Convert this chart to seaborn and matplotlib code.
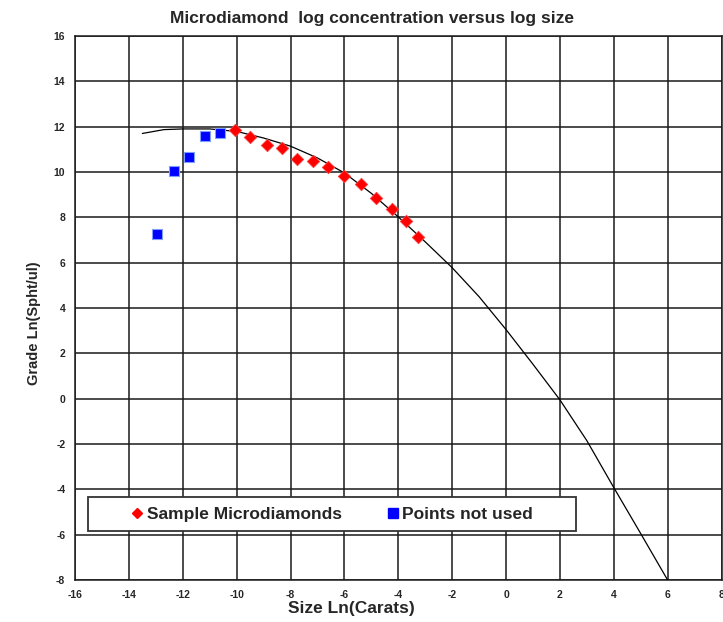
import matplotlib
matplotlib.use("Agg")
import matplotlib.pyplot as plt
import seaborn as sns
import pandas as pd
from matplotlib.patches import Rectangle
from matplotlib.lines import Line2D

# Sample microdiamonds (red diamonds)
sample_x = [-10.06, -9.50, -8.86, -8.32, -7.75, -7.17, -6.60, -6.02, -5.40, -4.84, -4.22, -3.72, -3.28]
sample_y = [11.85, 11.53, 11.18, 11.06, 10.59, 10.47, 10.22, 9.81, 9.46, 8.85, 8.35, 7.84, 7.15]

# Points not used (blue squares)
unused_x = [-12.96, -12.33, -11.77, -11.18, -10.63]
unused_y = [7.27, 10.05, 10.66, 11.59, 11.72]

# Fitted curve
curve_x = [-13.5, -12.7, -12.0, -11.0, -10.0, -9.0, -8.0, -7.0, -6.0, -5.0, -4.0,
           -3.0, -2.0, -1.0, 0.0, 1.0, 2.0, 3.0, 4.0, 5.0, 6.0]
curve_y = [11.70, 11.87, 11.90, 11.90, 11.79, 11.50, 11.14, 10.62, 9.96, 9.06, 8.02,
           6.92, 5.78, 4.50, 3.05, 1.52, -0.05, -1.85, -3.92, -5.95, -8.0]

x_ticks = list(range(-16, 9, 2))
y_ticks = list(range(-8, 17, 2))

sns.set_style("white")
plt.rcParams["font.family"] = ["Liberation Sans", "DejaVu Sans"]
plt.rcParams["axes.unicode_minus"] = False

fig = plt.figure(figsize=(7.23, 6.22), dpi=100)
ax = fig.add_axes([75 / 723, 42 / 622, 646.5 / 723, 544 / 622])

curve = pd.DataFrame({"x": curve_x, "y": curve_y})
sns.lineplot(data=curve, x="x", y="y", sort=False, estimator=None,
             color="black", linewidth=0.9, ax=ax, zorder=3)

sns.scatterplot(x=unused_x, y=unused_y, marker="s", s=48, color="#0000ff",
                edgecolor="#7f9fff", linewidth=0.8, ax=ax, zorder=4)
sns.scatterplot(x=sample_x, y=sample_y, marker="D", s=40, color="#ff0000",
                edgecolor="#ff4040", linewidth=0.6, ax=ax, zorder=4)

ax.set_xlim(-16, 8)
ax.set_ylim(-8, 16)
ax.set_xticks(x_ticks)
ax.set_yticks(y_ticks)
ax.grid(True, color="#1a1a1a", linewidth=1.1)
ax.set_axisbelow(True)
for side in ["left", "bottom", "top", "right"]:
    ax.spines[side].set_color("#1a1a1a")
    ax.spines[side].set_linewidth(1.1)

ax.tick_params(axis="both", direction="out", length=4, width=1, color="#1a1a1a",
               labelsize=7.5, pad=3)
for lab in ax.get_xticklabels() + ax.get_yticklabels():
    lab.set_fontweight("bold")

ax.set_xlabel("Size Ln(Carats)", fontsize=12.5, fontweight="bold")
ax.set_ylabel("Grade Ln(Spht/ul)", fontsize=10.5, fontweight="bold")
ax.xaxis.set_label_coords(0.428, -0.038)
ax.yaxis.set_label_coords(-0.053, 0.472)

fig.text(372 / 723, 1 - 18 / 622, "Microdiamond  log concentration versus log size",
         ha="center", va="center", fontsize=12.5, fontweight="bold")

# legend box
box = Rectangle((0.020, 0.090), 0.755, 0.0625, transform=ax.transAxes,
                facecolor="white", edgecolor="#333333", linewidth=1.3, zorder=5)
ax.add_patch(box)

handles = [
    Line2D([], [], linestyle="none", marker="D", markersize=5, color="#ff0000"),
    Line2D([], [], linestyle="none", marker="s", markersize=6.5, color="#0000ff"),
]
leg = ax.legend(handles, ["Sample Microdiamonds", "Points not used"], ncol=2,
                loc="center left", bbox_to_anchor=(0.0722, 0.121), frameon=False,
                prop={"weight": "bold", "size": 12.5}, handlelength=0.8,
                handletextpad=0.17, columnspacing=2.5, borderpad=0)
leg.set_zorder(6)

fig.savefig("out.png", dpi=100)
